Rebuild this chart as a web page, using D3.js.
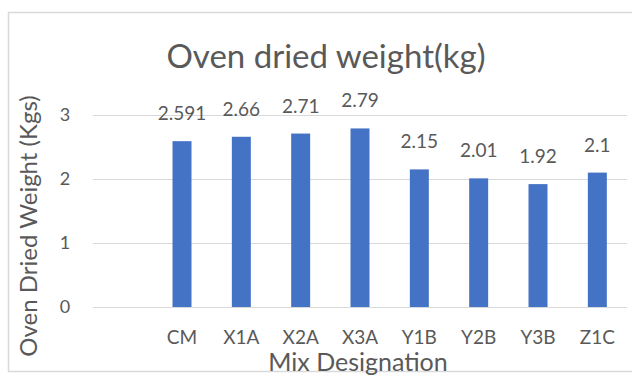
<!DOCTYPE html>
<html>
<head>
<meta charset="utf-8">
<script src="https://cdn.jsdelivr.net/npm/d3@7"></script>
<style>
  html, body { margin: 0; padding: 0; background: #fff; }
  svg { display: block; }
  text { font-family: Lato, "Open Sans", sans-serif; fill: #595959; }
</style>
</head>
<body>
<svg id="chart" width="632" height="376"></svg>
<script>
// Mix designations and their oven dried weights (kg)
const categories = ["CM", "X1A", "X2A", "X3A", "Y1B", "Y2B", "Y3B", "Z1C"];
const weights = [2.591, 2.66, 2.71, 2.79, 2.15, 2.01, 1.92, 2.1];
const valueLabels = ["2.591", "2.66", "2.71", "2.79", "2.15", "2.01", "1.92", "2.1"];
const yTicks = [0, 1, 2, 3];

const titleText = "Oven dried weight(kg)";
const xTitle = "Mix Designation";
const yTitle = "Oven Dried Weight (Kgs)";

const W = 632, H = 376;
const plot = { left: 93, right: 627, top: 115, bottom: 307 };

const svg = d3.select("#chart");

// chart area frame
svg.append("rect")
  .attr("x", 8.5).attr("y", 12.5)
  .attr("width", W + 20).attr("height", 359)
  .attr("fill", "#fff")
  .attr("stroke", "#d9d9d9").attr("stroke-width", 1.5);

// the category axis keeps one empty leading slot before the first mix
const x = d3.scaleBand()
  .domain(["", ...categories])
  .range([plot.left, plot.right])
  .paddingInner(0.68)
  .paddingOuter(0.34);

const y = d3.scaleLinear()
  .domain([0, 3])
  .range([plot.bottom, plot.top]);

// horizontal gridlines
svg.append("g")
  .selectAll("line")
  .data(yTicks)
  .join("line")
  .attr("x1", plot.left).attr("x2", plot.right)
  .attr("y1", d => Math.round(y(d)) + 0.5)
  .attr("y2", d => Math.round(y(d)) + 0.5)
  .attr("stroke", "#d9d9d9").attr("stroke-width", 1);

// y tick labels
svg.append("g")
  .selectAll("text")
  .data(yTicks)
  .join("text")
  .attr("x", 65)
  .attr("y", d => y(d))
  .attr("dy", "0.35em")
  .attr("text-anchor", "middle")
  .attr("font-size", 18)
  .text(d => d);

// bars
svg.append("g")
  .selectAll("rect")
  .data(weights)
  .join("rect")
  .attr("x", (d, i) => x(categories[i]))
  .attr("width", x.bandwidth())
  .attr("y", d => y(d))
  .attr("height", d => y(0) - y(d))
  .attr("fill", "#4472c4");

// value labels above each bar
svg.append("g")
  .selectAll("text")
  .data(weights)
  .join("text")
  .attr("x", (d, i) => x(categories[i]) + x.bandwidth() / 2)
  .attr("y", d => y(d) - 21)
  .attr("text-anchor", "middle")
  .attr("font-size", 19)
  .text((d, i) => valueLabels[i]);

// category labels
svg.append("g")
  .selectAll("text")
  .data(categories)
  .join("text")
  .attr("x", d => x(d) + x.bandwidth() / 2)
  .attr("y", 344)
  .attr("text-anchor", "middle")
  .attr("font-size", 19)
  .text(d => d);

// chart title
svg.append("text")
  .attr("x", 326).attr("y", 68)
  .attr("text-anchor", "middle")
  .attr("font-size", 33)
  .text(titleText);

// x axis title
svg.append("text")
  .attr("x", 358).attr("y", 371)
  .attr("text-anchor", "middle")
  .attr("font-size", 25)
  .text(xTitle);

// y axis title
svg.append("text")
  .attr("transform", "translate(37,226) rotate(-90)")
  .attr("text-anchor", "middle")
  .attr("font-size", 24)
  .text(yTitle);
</script>
</body>
</html>
